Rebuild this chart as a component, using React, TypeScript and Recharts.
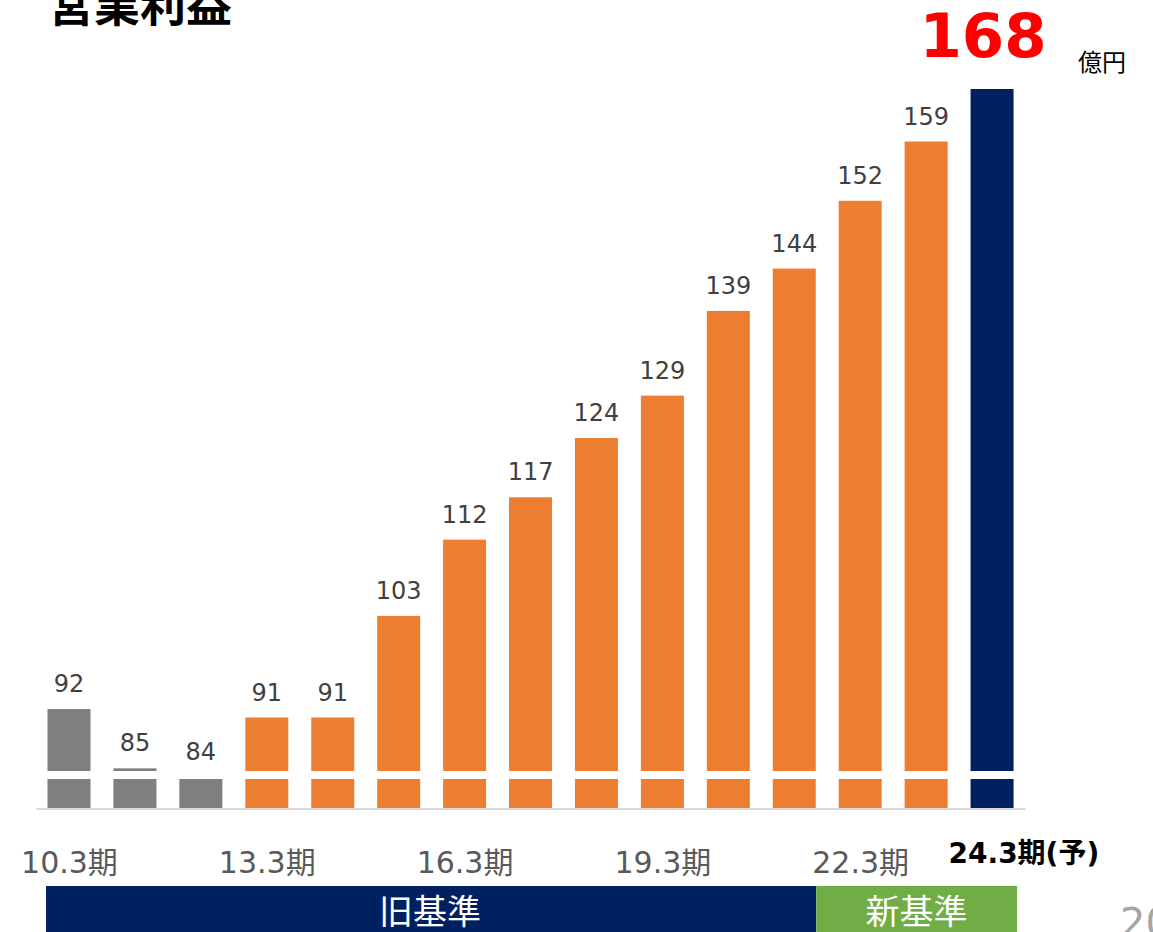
import { Bar, BarChart, Cell, LabelList, XAxis, YAxis } from "recharts";

// 営業利益（億円）
const periods = [
  "10.3期", "11.3期", "12.3期", "13.3期", "14.3期", "15.3期", "16.3期", "17.3期",
  "18.3期", "19.3期", "20.3期", "21.3期", "22.3期", "23.3期", "24.3期(予)",
];
const profit = [92, 85, 84, 91, 91, 103, 112, 117, 124, 129, 139, 144, 152, 159, 168];
const barGroup = [
  "prior", "prior", "prior", "old", "old", "old", "old", "old",
  "old", "old", "old", "old", "old", "old", "plan",
];
const shownTicks = ["10.3期", "13.3期", "16.3期", "19.3期", "22.3期", "24.3期(予)"];
const bands = [
  { label: "旧基準", from: "10.3期", to: "21.3期" },
  { label: "新基準", from: "22.3期", to: "24.3期(予)" },
];

const COLORS: Record<string, string> = {
  prior: "#7F7F7F",
  old: "#ED7D31",
  plan: "#002060",
};
const NAVY = "#002060";
const GREEN = "#70AD47";
const FONT = '"Noto Sans CJK JP", "Noto Sans", sans-serif';
const NUM_FONT = '"DejaVu Sans", "Noto Sans CJK JP", sans-serif';

const W = 1153;
const H = 932;
const TOP = 89;
const BOTTOM = 809;
const LEFT = 36.5;
const RIGHT = 1025.5;

const data = periods.map((p, i) => ({ period: p, value: profit[i], group: barGroup[i] }));

// bar with the axis break cut out near the bottom
const BrokenBar = (props: any) => {
  const { x, y, width, height, fill } = props;
  if (width == null || height == null) return null;
  const base = y + height;
  const top = Math.max(y, TOP);
  const gapTop = base - 38;
  const gapBottom = base - 30;
  return (
    <g>
      {top < gapTop && <rect x={x} y={top} width={width} height={gapTop - top} fill={fill} />}
      <rect
        x={x}
        y={Math.max(top, gapBottom)}
        width={width}
        height={base - Math.max(top, gapBottom)}
        fill={fill}
      />
    </g>
  );
};

const ValueLabel = (props: any) => {
  const { x, y, width, value, index } = props;
  const cx = x + width / 2;
  const last = index === profit.length - 1 || (index == null && value === profit[profit.length - 1]);
  if (last) {
    return (
      <g>
        <text x={cx - 9} y={57} textAnchor="middle" fill="#FF0000" fontSize={61} fontWeight={700} fontFamily={NUM_FONT}>
          {value}
        </text>
        <text x={1078} y={71} fill="#000" fontSize={24} fontFamily={FONT}>
          億円
        </text>
      </g>
    );
  }
  return (
    <text x={cx} y={y - 17} textAnchor="middle" fill="#404040" fontSize={24} fontFamily={NUM_FONT}>
      {value}
    </text>
  );
};

const PeriodTick = (props: any) => {
  const { x, payload } = props;
  const v = payload.value;
  if (!shownTicks.includes(v)) return null;
  if (v === periods[periods.length - 1]) {
    return (
      <text x={x - 44} y={863} textAnchor="start" fill="#000" fontSize={28} fontWeight={700} fontFamily={NUM_FONT}>
        {v}
      </text>
    );
  }
  return (
    <text x={x} y={873} textAnchor="middle" fill="#595959" fontSize={30} fontFamily={NUM_FONT}>
      {v}
    </text>
  );
};

export default function App() {
  const step = (RIGHT - LEFT) / periods.length;
  const barEdge = (p: string, edge: "l" | "r") => {
    const c = LEFT + step * (periods.indexOf(p) + 0.5);
    return edge === "l" ? c - 21.5 : c + 21.5;
  };
  const split = barEdge(bands[0].to, "r");
  return (
    <div style={{ position: "absolute", left: 0, top: 0, width: W, height: H, background: "#fff", overflow: "hidden" }}>
      <BarChart
        width={W}
        height={H}
        data={data}
        margin={{ top: TOP, right: W - RIGHT, left: LEFT, bottom: H - BOTTOM - 60 }}
      >
        <XAxis
          dataKey="period"
          height={60}
          interval={0}
          axisLine={{ stroke: "#D9D9D9", strokeWidth: 2 }}
          tickLine={false}
          tick={<PeriodTick />}
        />
        <YAxis hide domain={[80.2, 165.2]} allowDataOverflow />
        <Bar dataKey="value" barSize={43} isAnimationActive={false} shape={<BrokenBar />}>
          {data.map((d, i) => (
            <Cell key={i} fill={COLORS[d.group]} />
          ))}
          <LabelList dataKey="value" content={<ValueLabel />} />
        </Bar>
      </BarChart>

      <svg width={W} height={H} style={{ position: "absolute", left: 0, top: 0, pointerEvents: "none" }}>
        <text x={48} y={21} fill="#000" fontSize={46} fontWeight={700} fontFamily={FONT}>
          営業利益
        </text>
        <rect x={46} y={886} width={split - 46} height={46} fill={NAVY} />
        <text x={430} y={924} textAnchor="middle" fill="#fff" fontSize={34} fontFamily={FONT}>
          {bands[0].label}
        </text>
        <rect x={split} y={886} width={1017 - split} height={46} fill={GREEN} />
        <text x={(split + 1017) / 2} y={924} textAnchor="middle" fill="#fff" fontSize={34} fontFamily={FONT}>
          {bands[1].label}
        </text>
        <text x={1120} y={937} fill="#A6A6A6" fontSize={40} fontFamily={NUM_FONT}>
          20
        </text>
      </svg>
    </div>
  );
}
